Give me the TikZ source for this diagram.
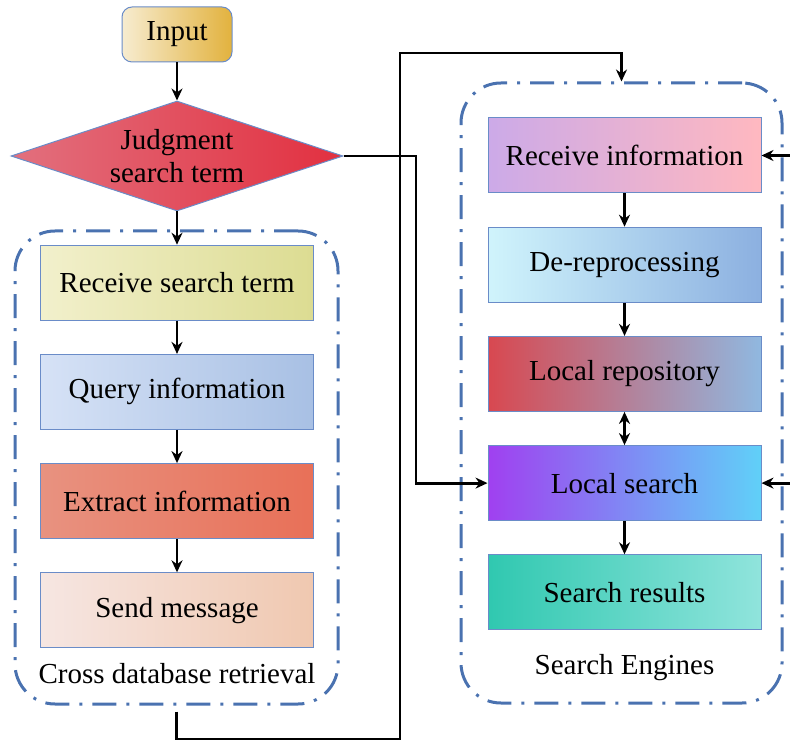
\documentclass[tikz,border=0pt]{standalone}
\usepackage{fontspec}
\setmainfont{Liberation Serif}
\usepackage{tikz}
\usetikzlibrary{arrows.meta, positioning, shapes.geometric}
\definecolor{frameblue}{HTML}{4A72B0}
\definecolor{edgeblue}{HTML}{6A8CC8}

\begin{document}
\begin{tikzpicture}[x=0.5pt, y=0.5pt,
        font=\fontsize{14.5}{16.5}\selectfont,
        box/.style={
            draw=edgeblue,
            line width=0.5pt,
            minimum width=136.5pt,
            minimum height=37.5pt,
            inner sep=0pt,
            align=center},
        decision/.style={
            diamond,
            aspect=3,
            draw=edgeblue,
            line width=0.5pt,
            minimum width=166pt,
            minimum height=55pt,
            inner sep=0pt,
            align=center},
        group/.style={
            draw=frameblue,
            line width=1.5pt,
            rounded corners=20pt,
            dash pattern=on 12pt off 5pt on 1.5pt off 5pt},
        flow/.style={->, line width=1.4pt},
        node distance=16.6pt,
        >={Stealth[length=6pt, width=5.5pt]}]

        \useasboundingbox (0,0) rectangle (790,-742);

        \node[group, minimum width=161.5pt, minimum height=236.5pt](crossdb) at (176.5,-467.5) {};
        \node[group, minimum width=160.5pt, minimum height=310pt](engines) at (621.5,-393) {};

        \node[box, rounded corners=5pt, minimum width=55pt, minimum height=27.5pt,
              left color={rgb,255:red,247;green,236;blue,208}, right color={rgb,255:red,226;green,178;blue,62}](input) at (177,-34.5) {Input};
        \node[decision, below=19pt of input, left color={rgb,255:red,226;green,112;blue,126}, right color={rgb,255:red,226;green,48;blue,64}](judge) {Judgment\\search term};
        \node[box, below=of judge, left color={rgb,255:red,242;green,240;blue,204}, right color={rgb,255:red,220;green,220;blue,146}](rst) {Receive search term};
        \node[box, below=of rst, left color={rgb,255:red,214;green,226;blue,246}, right color={rgb,255:red,168;green,192;blue,228}](query) {Query information};
        \node[box, below=of query, left color={rgb,255:red,232;green,146;blue,128}, right color={rgb,255:red,232;green,112;blue,88}](extract) {Extract information};
        \node[box, below=of extract, left color={rgb,255:red,246;green,230;blue,226}, right color={rgb,255:red,240;green,200;blue,176}](send) {Send message};
        \node[below=7.5pt of send, inner sep=0pt](crosslabel) {Cross database retrieval};

        \node[box, left color={rgb,255:red,204;green,170;blue,232}, middle color={rgb,255:red,240;green,184;blue,216}, right color={rgb,255:red,255;green,184;blue,192}](recvinfo) at (624.5,-155.5) {Receive information};
        \node[box, below=of recvinfo, left color={rgb,255:red,208;green,244;blue,252}, right color={rgb,255:red,140;green,176;blue,224}](derepro) {De-reprocessing};
        \node[box, below=of derepro, left color={rgb,255:red,216;green,72;blue,80}, right color={rgb,255:red,144;green,184;blue,224}](localrepo) {Local repository};
        \node[box, below=of localrepo, left color={rgb,255:red,160;green,64;blue,240}, right color={rgb,255:red,96;green,208;blue,248}](localsearch) {Local search};
        \node[box, below=of localsearch, left color={rgb,255:red,48;green,200;blue,176}, right color={rgb,255:red,144;green,228;blue,220}](results) {Search results};
        \node[below=12pt of results, inner sep=0pt](enginelabel) {Search Engines};

        \coordinate (jbend) at (416,-155);
        \coordinate (loopsw) at (400,-739);
        \coordinate (loopnw) at (400,-53);
        \coordinate (rightedge) at (792,0);

        \draw[flow] (input) -- (judge);
        \draw[flow] (judge) -- (rst);
        \draw[flow] (rst) -- (query);
        \draw[flow] (query) -- (extract);
        \draw[flow] (extract) -- (send);
        \draw[flow] (judge.east) -- (judge.east -| jbend) |- (localsearch);
        \draw[flow, shorten <=3pt] (crossdb.south) |- (loopsw) -- (loopnw) -| (engines.north);
        \draw[flow] (recvinfo.east -| rightedge) -- (recvinfo);
        \draw[flow] (localsearch.east -| rightedge) -- (localsearch);
        \draw[flow] (recvinfo) -- (derepro);
        \draw[flow] (derepro) -- (localrepo);
        \draw[flow, <->] (localrepo) -- (localsearch);
        \draw[flow] (localsearch) -- (results);
    \end{tikzpicture}
\end{document}
